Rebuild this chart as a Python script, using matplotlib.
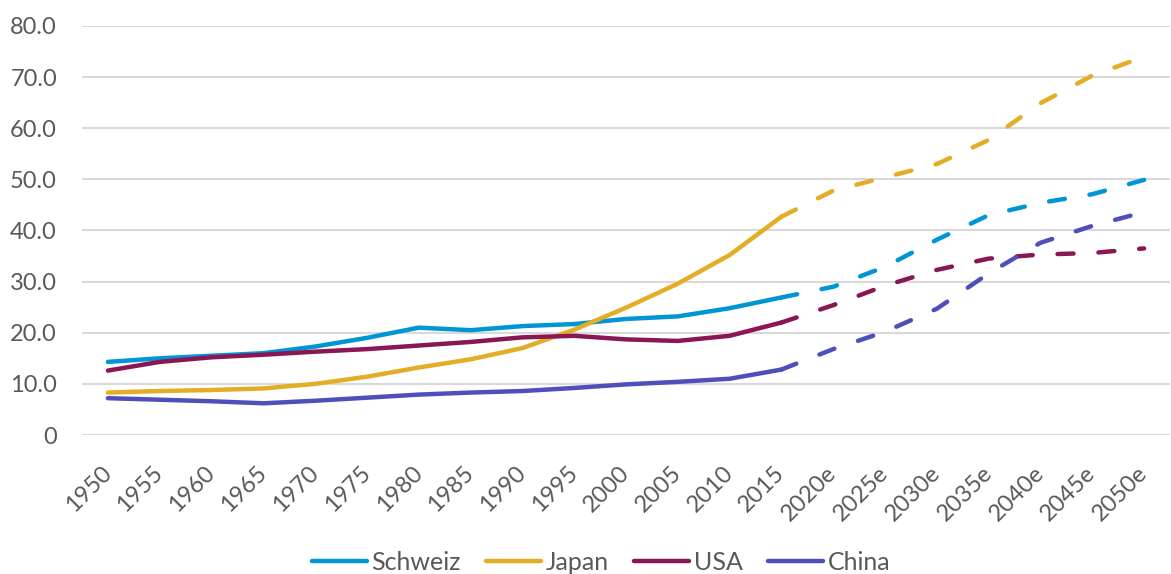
import matplotlib
matplotlib.use("Agg")
import matplotlib.pyplot as plt
from matplotlib.lines import Line2D

years = ["1950", "1955", "1960", "1965", "1970", "1975", "1980", "1985", "1990",
         "1995", "2000", "2005", "2010", "2015", "2020e", "2025e", "2030e",
         "2035e", "2040e", "2045e", "2050e"]

schweiz = [14.3, 15.0, 15.5, 16.0, 17.3, 19.0, 21.0, 20.5, 21.3, 21.7, 22.7, 23.2,
           24.8, 26.9, 29.0, 32.9, 38.2, 43.0, 45.4, 47.1, 49.9]
japan = [8.3, 8.6, 8.8, 9.1, 10.0, 11.4, 13.2, 14.8, 17.0, 20.6, 24.9, 29.6,
         35.2, 42.7, 47.8, 50.4, 53.0, 57.7, 64.9, 70.3, 74.0]
usa = [12.6, 14.3, 15.2, 15.7, 16.3, 16.8, 17.5, 18.2, 19.1, 19.4, 18.7, 18.4,
       19.4, 22.0, 25.4, 29.2, 32.3, 34.5, 35.3, 35.6, 36.5]
china = [7.2, 6.9, 6.6, 6.2, 6.7, 7.3, 7.9, 8.3, 8.6, 9.2, 9.9, 10.4,
         11.0, 12.8, 16.8, 20.2, 24.7, 31.6, 37.6, 40.9, 43.6]

series_names = ["Schweiz", "Japan", "USA", "China"]
series_values = [schweiz, japan, usa, china]
colors = ["#0096D6", "#E3AE25", "#8A1653", "#4F4FBB"]

y_ticks = [0, 10, 20, 30, 40, 50, 60, 70, 80]
y_labels = ["0", "10.0", "20.0", "30.0", "40.0", "50.0", "60.0", "70.0", "80.0"]

split = years.index("2015")

plt.rcParams["font.family"] = ["Lato", "DejaVu Sans"]
text_color = "#595959"
fs = 17

fig = plt.figure(figsize=(11.71, 5.74), dpi=100)
ax = fig.add_axes([82 / 1171, 139 / 574, (1170 - 82) / 1171, (435 - 26) / 574])

x = list(range(len(years)))
lw = 3.2
for name, vals, c in zip(series_names, series_values, colors):
    ax.plot(x[:split + 1], vals[:split + 1], color=c, lw=lw,
            solid_capstyle="round", solid_joinstyle="round")
    ax.plot(x[split:], vals[split:], color=c, lw=lw,
            linestyle=(0, (3.6, 5.6)), dash_capstyle="round",
            dash_joinstyle="round")

ax.set_xlim(-0.5, len(years) - 0.5)
ax.set_ylim(0, 80)
ax.set_yticks(y_ticks)
ax.set_yticklabels(y_labels)
ax.yaxis.grid(True, color="#D9D9D9", lw=1.5)
ax.set_axisbelow(True)
for s in ax.spines.values():
    s.set_visible(False)
ax.tick_params(axis="both", length=0, colors=text_color, labelsize=fs)
ax.tick_params(axis="y", pad=18)
ax.set_xticks(x)
ax.set_xticklabels(years, rotation=45, ha="right", va="center",
                   rotation_mode="anchor")
ax.tick_params(axis="x", pad=25)

handles = [Line2D([0], [0], color=c, lw=lw, solid_capstyle="round")
           for c in colors]
fig.legend(handles, series_names, loc="center",
           bbox_to_anchor=(601 / 1171, 1 - 562 / 574), ncol=4, frameon=False,
           fontsize=18, handlelength=2.2, handletextpad=0.2,
           columnspacing=1.0, labelcolor=text_color)

fig.savefig("out.png", dpi=100)
